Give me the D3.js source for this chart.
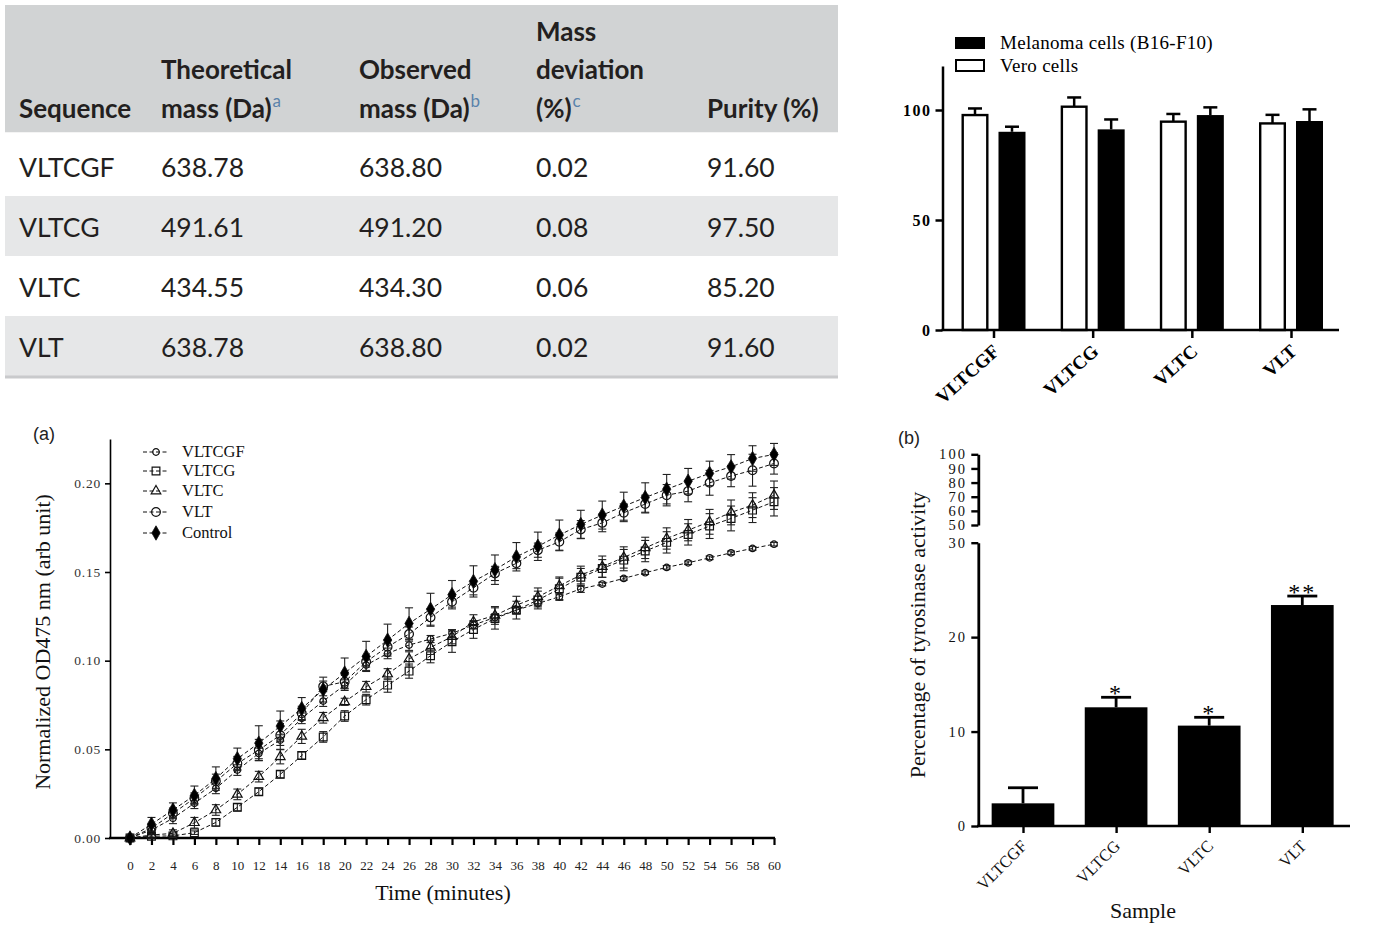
<!DOCTYPE html>
<html><head><meta charset="utf-8">
<script src="https://cdn.jsdelivr.net/npm/d3@7"></script>
<style>
html,body{margin:0;padding:0;background:#fff;}
svg{display:block;}
</style></head>
<body>
<svg id="fig" width="1382" height="929"></svg>
<script>
// ---------- Table data ----------
const tblSequence = ["VLTCGF","VLTCG","VLTC","VLT"];
const tblTheoMass = ["638.78","491.61","434.55","638.78"];
const tblObsMass  = ["638.80","491.20","434.30","638.80"];
const tblMassDev  = ["0.02","0.08","0.06","0.02"];
const tblPurity   = ["91.60","97.50","85.20","91.60"];

// ---------- Cytotoxicity bar chart data ----------
const cytoCategories = ["VLTCGF","VLTCG","VLTC","VLT"];
const cytoSeries = ["Vero cells","Melanoma cells (B16-F10)"];
const veroValues = [97.7, 101.5, 94.7, 93.9];
const veroErr    = [3.0, 4.2, 3.5, 3.9];
const melanomaValues = [90.1, 91.2, 97.7, 95.0];
const melanomaErr    = [2.3, 4.5, 3.5, 5.3];
const cytoTicks = [0, 50, 100];

// ---------- Kinetics line chart data ----------
const timeMinutes = [0,2,4,6,8,10,12,14,16,18,20,22,24,26,28,30,32,34,36,38,40,42,44,46,48,50,52,54,56,58,60];
const controlOD = [0,0.0078,0.0158,0.024,0.0335,0.0447,0.0535,0.0631,0.073,0.0837,0.093,0.1024,0.1116,0.121,0.129,0.1372,0.1447,0.1513,0.1586,0.1645,0.1708,0.1768,0.1821,0.1871,0.192,0.1967,0.2012,0.2056,0.2093,0.214,0.2163];
const controlErr = [0.002,0.0038,0.004,0.0053,0.0066,0.006,0.0098,0.0085,0.0062,0.007,0.0085,0.0085,0.009,0.0088,0.009,0.008,0.0088,0.0083,0.008,0.008,0.0085,0.008,0.0079,0.0079,0.0083,0.0083,0.0072,0.0069,0.0069,0.0072,0.0062];
const vltOD = [0,0.0055,0.0139,0.0224,0.032,0.042,0.0496,0.058,0.0703,0.0855,0.0881,0.0994,0.1078,0.115,0.1244,0.1332,0.1411,0.1492,0.1549,0.1623,0.167,0.174,0.1777,0.1834,0.1883,0.1933,0.1956,0.2003,0.2041,0.2074,0.2112];
const vltErr = [0.001,0.002,0.003,0.003,0.004,0.004,0.006,0.008,0.004,0.003,0.004,0.003,0.004,0.004,0.005,0.003,0.004,0.004,0.003,0.004,0.005,0.005,0.005,0.005,0.005,0.006,0.006,0.007,0.006,0.009,0.006];
const vltcgfOD = [0,0.0045,0.0111,0.0196,0.028,0.0383,0.0477,0.0552,0.0675,0.0772,0.0862,0.0975,0.1041,0.1088,0.1122,0.1154,0.1201,0.1244,0.1285,0.1323,0.136,0.1405,0.1432,0.1464,0.1496,0.1526,0.1552,0.158,0.1608,0.1633,0.1657];
const vltcgfErr = [0.001,0.002,0.003,0.003,0.003,0.003,0.003,0.003,0.003,0.003,0.003,0.003,0.003,0.003,0.002,0.002,0.002,0.002,0.002,0.002,0.002,0.002,0.001,0.001,0.001,0.001,0.001,0.001,0.001,0.001,0.001];
const vltcOD = [0,0.0017,0.0026,0.0086,0.0158,0.0246,0.0346,0.0458,0.0573,0.0678,0.0768,0.0853,0.0925,0.101,0.1075,0.1135,0.1219,0.1255,0.1313,0.136,0.1422,0.1483,0.153,0.1582,0.1636,0.1689,0.1736,0.1783,0.1836,0.1877,0.1933];
const vltcErr = [0.001,0.002,0.002,0.003,0.003,0.003,0.003,0.004,0.004,0.003,0.002,0.003,0.003,0.004,0.004,0.004,0.004,0.005,0.005,0.005,0.005,0.005,0.006,0.006,0.006,0.006,0.006,0.007,0.007,0.007,0.008];
const vltcgOD = [0,0.001,0.0012,0.003,0.0088,0.0173,0.0261,0.0359,0.0465,0.057,0.0688,0.078,0.0862,0.0941,0.1028,0.1107,0.1176,0.1238,0.1285,0.1342,0.1405,0.147,0.152,0.1567,0.1618,0.1667,0.1712,0.1759,0.1802,0.1849,0.1896];
const vltcgErr = [0.001,0.001,0.001,0.001,0.002,0.002,0.002,0.002,0.002,0.003,0.003,0.003,0.004,0.004,0.004,0.006,0.005,0.006,0.005,0.005,0.006,0.005,0.005,0.006,0.006,0.006,0.006,0.007,0.007,0.007,0.008];
const kineticsNames = ["VLTCGF","VLTCG","VLTC","VLT","Control"];
const odTicks = [0, 0.05, 0.10, 0.15, 0.20];

// ---------- Tyrosinase activity data ----------
const tyrCategories = ["VLTCGF","VLTCG","VLTC","VLT"];
const tyrValues = [2.4, 12.57, 10.63, 23.4];
const tyrErr    = [1.65, 1.06, 0.88, 0.95];
const tyrSignif = ["", "*", "*", "**"];
const tyrTicksLow = [0, 10, 20, 30];
const tyrTicksHigh = [50, 60, 70, 80, 90, 100];

const svg = d3.select("#fig");
const SERIF = '"Liberation Serif","Times New Roman",serif';
const LATO = 'Lato, "Noto Sans", sans-serif';

// ================= TABLE =================
(function(){
  const g = svg.append("g");
  const x0 = 5, x1 = 838;
  g.append("rect").attr("x",x0).attr("y",5).attr("width",x1-x0).attr("height",127.5).attr("fill","#d1d3d4");
  const rowTop = [132.5,196,256,316], rowBot=[196,256,316,376];
  rowTop.forEach((t,i)=>{
    g.append("rect").attr("x",x0).attr("y",t).attr("width",x1-x0).attr("height",rowBot[i]-t)
      .attr("fill", i%2===1 ? "#e6e7e8" : "#ffffff");
  });
  g.append("rect").attr("x",x0).attr("y",375.5).attr("width",x1-x0).attr("height",3).attr("fill","#c9cacc");
  const colX = [19,161,359,536,707];
  const hdr = g.append("g").attr("font-family",LATO).attr("font-weight","bold").attr("font-size",26).attr("fill","#231f20");
  const headers = [
    [["Sequence",118]],
    [["Theoretical",79],["mass (Da)",118,"a"]],
    [["Observed",79],["mass (Da)",118,"b"]],
    [["Mass",41],["deviation",79],["(%)",118,"c"]],
    [["Purity (%)",118]]
  ];
  headers.forEach((lines,ci)=>{
    lines.forEach(l=>{
      const t = hdr.append("text").attr("x",colX[ci]).attr("y",l[1]);
      t.append("tspan").text(l[0]);
      if(l[2]) t.append("tspan").attr("dx",1).attr("dy",-11).attr("font-size",17).attr("font-weight","normal").attr("fill","#5a82ab").text(l[2]);
    });
  });
  const body = g.append("g").attr("font-family",LATO).attr("font-size",26.5).attr("fill","#231f20");
  const cols = [tblSequence,tblTheoMass,tblObsMass,tblMassDev,tblPurity];
  const base = [177,237,297,357];
  cols.forEach((col,ci)=>{
    col.forEach((v,ri)=>{
      body.append("text").attr("x",colX[ci]).attr("y",base[ri]).text(v);
    });
  });
})();

// ================= CYTOTOXICITY BARS (top right) =================
(function(){
  const g = svg.append("g").attr("font-family",SERIF);
  const y = d3.scaleLinear().domain([0,120]).range([330,66]);
  const x = d3.scalePoint().domain(cytoCategories).range([993.5,1291]);
  const sub = d3.scaleBand().domain(["Vero cells","Melanoma cells (B16-F10)"]).range([-32,32]).paddingInner(0.27);
  const axisY = d3.axisLeft(y).tickValues(cytoTicks).tickSize(7).tickSizeOuter(0).tickPadding(4);
  const gy = g.append("g").attr("transform","translate(942.5,0)").call(axisY);
  gy.select(".domain").attr("stroke-width",2.5);
  gy.selectAll(".tick line").attr("stroke-width",2.5);
  gy.selectAll(".tick text").attr("font-family",SERIF).attr("font-weight","bold").attr("font-size",16).attr("letter-spacing",1.5).attr("fill","#000");
  const data = cytoCategories.map((c,i)=>[
    {cat:c, s:"Vero cells", v:veroValues[i], e:veroErr[i]},
    {cat:c, s:"Melanoma cells (B16-F10)", v:melanomaValues[i], e:melanomaErr[i]}
  ]).flat();
  data.forEach(d=>{
    const bx = x(d.cat)+sub(d.s), bw = sub.bandwidth();
    const isVero = d.s==="Vero cells";
    const cx = bx+bw/2;
    g.append("line").attr("x1",cx).attr("x2",cx).attr("y1",y(d.v)).attr("y2",y(d.v+d.e)).attr("stroke","#000").attr("stroke-width",2.5);
    g.append("line").attr("x1",cx-7).attr("x2",cx+7).attr("y1",y(d.v+d.e)).attr("y2",y(d.v+d.e)).attr("stroke","#000").attr("stroke-width",2.5);
    if(isVero){
      g.append("rect").attr("x",bx+1.2).attr("y",y(d.v)).attr("width",bw-2.4).attr("height",y(0)-y(d.v)).attr("fill","#fff").attr("stroke","#000").attr("stroke-width",2.4);
    } else {
      g.append("rect").attr("x",bx).attr("y",y(d.v)).attr("width",bw).attr("height",y(0)-y(d.v)).attr("fill","#000");
    }
  });
  const axisX = d3.axisBottom(x).tickSize(8).tickSizeOuter(0).tickFormat("");
  const gx = g.append("g").attr("transform","translate(0,330)").call(axisX);
  gx.select(".domain").remove();
  gx.selectAll(".tick line").attr("stroke-width",2.5);
  g.append("line").attr("x1",941.5).attr("x2",1339).attr("y1",330).attr("y2",330).attr("stroke","#000").attr("stroke-width",2.5);
  cytoCategories.forEach(c=>{
    g.append("text").attr("transform",`translate(${x(c)+7},${353}) rotate(-42)`).attr("text-anchor","end")
      .attr("font-weight","bold").attr("font-size",19).attr("fill","#000").text(c);
  });
  g.append("rect").attr("x",955).attr("y",37).attr("width",30).attr("height",12).attr("fill","#000");
  g.append("text").attr("x",1000).attr("y",49).attr("font-size",19).attr("letter-spacing",0.3).attr("fill","#000").text(cytoSeries[1]);
  g.append("rect").attr("x",956).attr("y",60).attr("width",28).attr("height",11).attr("fill","#fff").attr("stroke","#000").attr("stroke-width",2);
  g.append("text").attr("x",1000).attr("y",72).attr("font-size",19).attr("letter-spacing",0.3).attr("fill","#000").text(cytoSeries[0]);
})();

// ================= KINETICS LINE CHART (a) =================
(function(){
  const g = svg.append("g").attr("font-family",SERIF);
  const x = d3.scaleLinear().domain([0,60]).range([130,774]);
  const y = d3.scaleLinear().domain([0,0.225]).range([838,439]);
  const gy = g.append("g").attr("transform","translate(110,0)")
    .call(d3.axisLeft(y).tickValues(odTicks).tickFormat(d3.format(".2f")).tickSize(5).tickSizeOuter(0).tickPadding(4));
  gy.select(".domain").attr("stroke-width",1.6);
  gy.selectAll(".tick line").attr("stroke-width",1.6);
  gy.selectAll(".tick text").attr("font-family",SERIF).attr("font-size",13.5).attr("letter-spacing",0.8).attr("fill","#333");
  const gx = g.append("g").attr("transform","translate(0,838)")
    .call(d3.axisBottom(x).tickValues(timeMinutes).tickSize(7).tickSizeOuter(0).tickPadding(16));
  gx.select(".domain").remove();
  gx.selectAll(".tick line").attr("stroke-width",2.2);
  gx.selectAll(".tick text").attr("font-family",SERIF).attr("font-size",13).attr("fill","#222");
  g.append("line").attr("x1",109).attr("x2",775).attr("y1",838).attr("y2",838).attr("stroke","#000").attr("stroke-width",2.6);

  const series = [
    {name:"VLTCGF", vals:vltcgfOD, err:vltcgfErr, sym:"circleS"},
    {name:"VLTCG", vals:vltcgOD, err:vltcgErr, sym:"square"},
    {name:"VLTC", vals:vltcOD, err:vltcErr, sym:"triangle"},
    {name:"VLT", vals:vltOD, err:vltErr, sym:"circleL"},
    {name:"Control", vals:controlOD, err:controlErr, sym:"diamond"}
  ];
  const symGen = {
    circleS: d3.symbol().type(d3.symbolCircle).size(34),
    circleL: d3.symbol().type(d3.symbolCircle).size(60),
    square:  d3.symbol().type(d3.symbolSquare).size(60),
    triangle:d3.symbol().type(d3.symbolTriangle).size(40),
    diamond: d3.symbol().type(d3.symbolDiamond).size(60)
  };
  function marker(sel, sym, cx, cy){
    const filled = sym==="diamond";
    sel.append("path").attr("d",symGen[sym]()).attr("transform",`translate(${cx},${cy})`)
      .attr("fill", filled ? "#000" : "none").attr("stroke","#111").attr("stroke-width", filled?0.8:1.2);
  }
  const line = d3.line().x((d,i)=>x(timeMinutes[i])).y(d=>y(d));
  series.forEach(s=>{
    const sg = g.append("g");
    s.vals.forEach((v,i)=>{
      const cx = x(timeMinutes[i]);
      const yt = y(v+s.err[i]), yb = y(Math.max(0,v-s.err[i]));
      sg.append("line").attr("x1",cx).attr("x2",cx).attr("y1",yt).attr("y2",yb).attr("stroke","#222").attr("stroke-width",1.1);
      sg.append("line").attr("x1",cx-4).attr("x2",cx+4).attr("y1",yt).attr("y2",yt).attr("stroke","#222").attr("stroke-width",1.1);
      sg.append("line").attr("x1",cx-4).attr("x2",cx+4).attr("y1",yb).attr("y2",yb).attr("stroke","#222").attr("stroke-width",1.1);
    });
    sg.append("path").attr("d",line(s.vals)).attr("fill","none").attr("stroke","#111").attr("stroke-width",1).attr("stroke-dasharray","4,2.5");
    s.vals.forEach((v,i)=>marker(sg, s.sym, x(timeMinutes[i]), y(v)));
  });
  const legY = [452,471,491,512,533];
  series.forEach((s,i)=>{
    g.append("line").attr("x1",143).attr("x2",169).attr("y1",legY[i]).attr("y2",legY[i]).attr("stroke","#111").attr("stroke-dasharray","4,2.5");
    marker(g, s.sym, 156, legY[i]);
    g.append("text").attr("x",182).attr("y",legY[i]+5).attr("font-size",16.5).attr("fill","#111").text(kineticsNames[i]);
  });
  g.append("text").attr("x",443).attr("y",900).attr("text-anchor","middle").attr("font-size",22).attr("fill","#111").text("Time (minutes)");
  g.append("text").attr("transform","translate(50,642) rotate(-90)").attr("text-anchor","middle").attr("font-size",22).attr("fill","#111").text("Normalized OD475 nm (arb unit)");
  svg.append("text").attr("x",33).attr("y",440).attr("font-family","Liberation Sans, Arial, sans-serif").attr("font-size",18).attr("fill","#222").text("(a)");
})();

// ================= TYROSINASE ACTIVITY (b) =================
(function(){
  const g = svg.append("g").attr("font-family",SERIF);
  const yLow = d3.scaleLinear().domain([0,30]).range([826,542.7]);
  const yHigh = d3.scaleLinear().domain([50,100]).range([525,454.3]);
  const x = d3.scalePoint().domain(tyrCategories).range([1023,1302.3]);
  const gl = g.append("g").attr("transform","translate(978.3,0)")
    .call(d3.axisLeft(yLow).tickValues(tyrTicksLow).tickSize(7).tickSizeOuter(0).tickPadding(4));
  const gh = g.append("g").attr("transform","translate(978.3,0)")
    .call(d3.axisLeft(yHigh).tickValues(tyrTicksHigh).tickSize(7).tickSizeOuter(0).tickPadding(4));
  [gl,gh].forEach(a=>{
    a.select(".domain").attr("stroke-width",2.8);
    a.selectAll(".tick line").attr("stroke-width",2.4);
    a.selectAll(".tick text").attr("font-family",SERIF).attr("font-size",14.5).attr("letter-spacing",2.2).attr("fill","#111");
  });
  const bw = 62.7;
  tyrCategories.forEach((c,i)=>{
    const cx = x(c);
    const v = tyrValues[i], e = tyrErr[i];
    g.append("line").attr("x1",cx).attr("x2",cx).attr("y1",yLow(v)).attr("y2",yLow(v+e)).attr("stroke","#000").attr("stroke-width",2.8);
    g.append("line").attr("x1",cx-15).attr("x2",cx+15).attr("y1",yLow(v+e)).attr("y2",yLow(v+e)).attr("stroke","#000").attr("stroke-width",2.8);
    g.append("rect").attr("x",cx-bw/2).attr("y",yLow(v)).attr("width",bw).attr("height",yLow(0)-yLow(v)).attr("fill","#000");
    if(tyrSignif[i]) g.append("text").attr("x",cx).attr("y",yLow(v+e)+4).attr("text-anchor","middle").attr("font-size",24).attr("letter-spacing",2).attr("fill","#000").text(tyrSignif[i]);
  });
  const gx = g.append("g").attr("transform","translate(0,826)")
    .call(d3.axisBottom(x).tickSize(7).tickSizeOuter(0).tickFormat(""));
  gx.select(".domain").remove();
  gx.selectAll(".tick line").attr("stroke-width",2.4);
  g.append("line").attr("x1",977).attr("x2",1350).attr("y1",826).attr("y2",826).attr("stroke","#000").attr("stroke-width",2.6);
  tyrCategories.forEach(c=>{
    g.append("text").attr("transform",`translate(${x(c)+5},${847}) rotate(-45)`).attr("text-anchor","end")
      .attr("font-size",16.5).attr("fill","#111").text(c);
  });
  g.append("text").attr("x",1143).attr("y",918).attr("text-anchor","middle").attr("font-size",22).attr("fill","#111").text("Sample");
  g.append("text").attr("transform","translate(925,635) rotate(-90)").attr("text-anchor","middle").attr("font-size",22).attr("fill","#111").text("Percentage of tyrosinase activity");
  svg.append("text").attr("x",898).attr("y",444).attr("font-family","Liberation Sans, Arial, sans-serif").attr("font-size",18).attr("fill","#222").text("(b)");
})();
</script>
</body></html>
